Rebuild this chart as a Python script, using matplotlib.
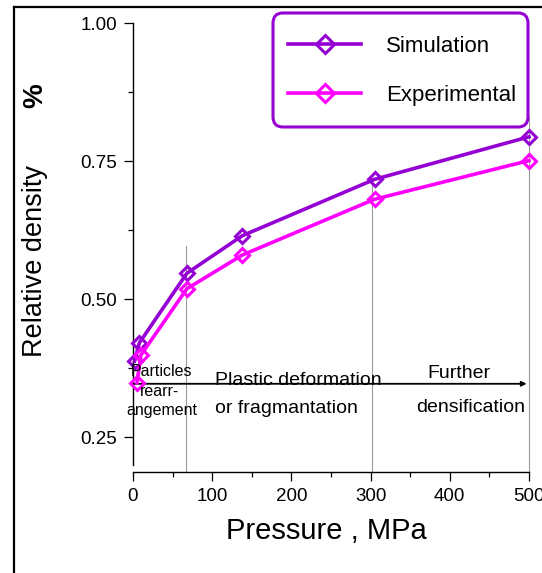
import matplotlib
matplotlib.use("Agg")
import matplotlib.pyplot as plt
from matplotlib.lines import Line2D
from matplotlib.patches import FancyBboxPatch
from matplotlib import font_manager as fm

# ---- data ----
sim_x = [2, 8, 68, 138, 305, 500]
sim_y = [0.388, 0.421, 0.547, 0.615, 0.717, 0.794]
exp_x = [5, 10, 68, 138, 305, 500]
exp_y = [0.349, 0.399, 0.519, 0.580, 0.681, 0.751]
series_labels = ["Simulation", "Experimental"]
x_ticks = [0, 100, 200, 300, 400, 500]
y_ticks = [0.25, 0.50, 0.75, 1.00]
y_tick_labels = ["0.25", "0.50", "0.75", "1.00"]
stage_bounds = [67.5, 302, 500]
stage_tops = [0.596, 0.72, 0.83]

names = {f.name for f in fm.fontManager.ttflist}
base = "Liberation Sans" if "Liberation Sans" in names else "DejaVu Sans"
plt.rcParams["font.family"] = [base, "DejaVu Sans"]

SIM_C = "#9400D3"
EXP_C = "#FF00FF"
W, H = 542, 573

fig = plt.figure(figsize=(5.42, 5.73), dpi=100)
ax = fig.add_axes([133/W, 1-465/H, (529-133)/W, (465-23)/H])

ax.plot(sim_x, sim_y, color=SIM_C, lw=2.6, marker="D", ms=7.2, mfc="none",
        mec=SIM_C, mew=2.2, label=series_labels[0], clip_on=False, zorder=3)
ax.plot(exp_x, exp_y, color=EXP_C, lw=2.6, marker="D", ms=7.2, mfc="none",
        mec=EXP_C, mew=2.2, label=series_labels[1], clip_on=False, zorder=3)

ax.set_xlim(0, 500)
ax.set_ylim(0.2, 1.0)

# stage boundary lines
for xb, yt in zip(stage_bounds, stage_tops):
    ax.plot([xb, xb], [0.19, yt], color="#9a9a9a", lw=0.8, clip_on=False, zorder=2)

# arrow
ax.annotate("", xy=(497, 0.347), xytext=(0, 0.347),
            arrowprops=dict(arrowstyle="-|>", lw=1.3, color="black",
                            mutation_scale=7, shrinkA=0, shrinkB=0), zorder=2.5)

# annotations
ax.text(36, 0.370, "Particles", ha="center", va="center", fontsize=11.5)
ax.text(34, 0.333, "rearr-", ha="center", va="center", fontsize=11.5)
ax.text(36.6, 0.299, "angement", ha="center", va="center", fontsize=11.5)
ax.text(103.5, 0.353, "Plastic deformation", ha="left", va="center", fontsize=14)
ax.text(103.5, 0.3025, "or fragmantation", ha="left", va="center", fontsize=14)
ax.text(411.6, 0.366, "Further", ha="center", va="center", fontsize=14)
ax.text(426.8, 0.304, "densification", ha="center", va="center", fontsize=14)

# spines and ticks
for s in ["top", "right"]:
    ax.spines[s].set_visible(False)
ax.spines["bottom"].set_position(("outward", 5))
ax.spines["left"].set_linewidth(1.0)
ax.spines["bottom"].set_linewidth(1.0)
ax.set_xticks(x_ticks)
ax.set_xticks([50, 150, 250, 350, 450], minor=True)
ax.set_yticks(y_ticks)
ax.set_yticklabels(y_tick_labels)
ax.set_yticks([0.375, 0.625, 0.875], minor=True)
ax.tick_params(which="major", direction="out", length=6.5, width=0.9, labelsize=13.5, pad=5)
ax.tick_params(which="minor", direction="out", length=3.5, width=0.9)

# axis labels
fig.text(326/W, 1-531/H, "Pressure , MPa", ha="center", va="center", fontsize=21)
fig.text(35/W, 1-261/H, "Relative density", ha="center", va="center",
         rotation=90, fontsize=19.5)
fig.text(35/W, 1-96/H, "%", ha="center", va="center", rotation=90,
         fontsize=20, fontweight="bold")

# legend frame drawn separately, legend on top
frame = FancyBboxPatch((273/W, 1-127/H), (528-273)/W, (127-13)/H,
                       boxstyle="round,pad=0,rounding_size=0.018",
                       transform=fig.transFigure, facecolor="white",
                       edgecolor=SIM_C, lw=2.2, zorder=4, clip_on=False)
ax.add_patch(frame)
leg = ax.legend(loc="upper left", bbox_to_anchor=(288/W, 1-36/H),
                bbox_transform=fig.transFigure, fontsize=16, frameon=False,
                handlelength=3.3, handletextpad=1.1, labelspacing=1.27,
                borderpad=0, borderaxespad=0, markerscale=1.3)
leg.set_zorder(6)

# outer frame
fig.add_artist(Line2D([14/W, 1], [1-7/H, 1-7/H], transform=fig.transFigure,
                      color="black", lw=1.6))
fig.add_artist(Line2D([14/W, 14/W], [0, 1-7/H], transform=fig.transFigure,
                      color="black", lw=1.6))

fig.savefig("out.png", dpi=100)
